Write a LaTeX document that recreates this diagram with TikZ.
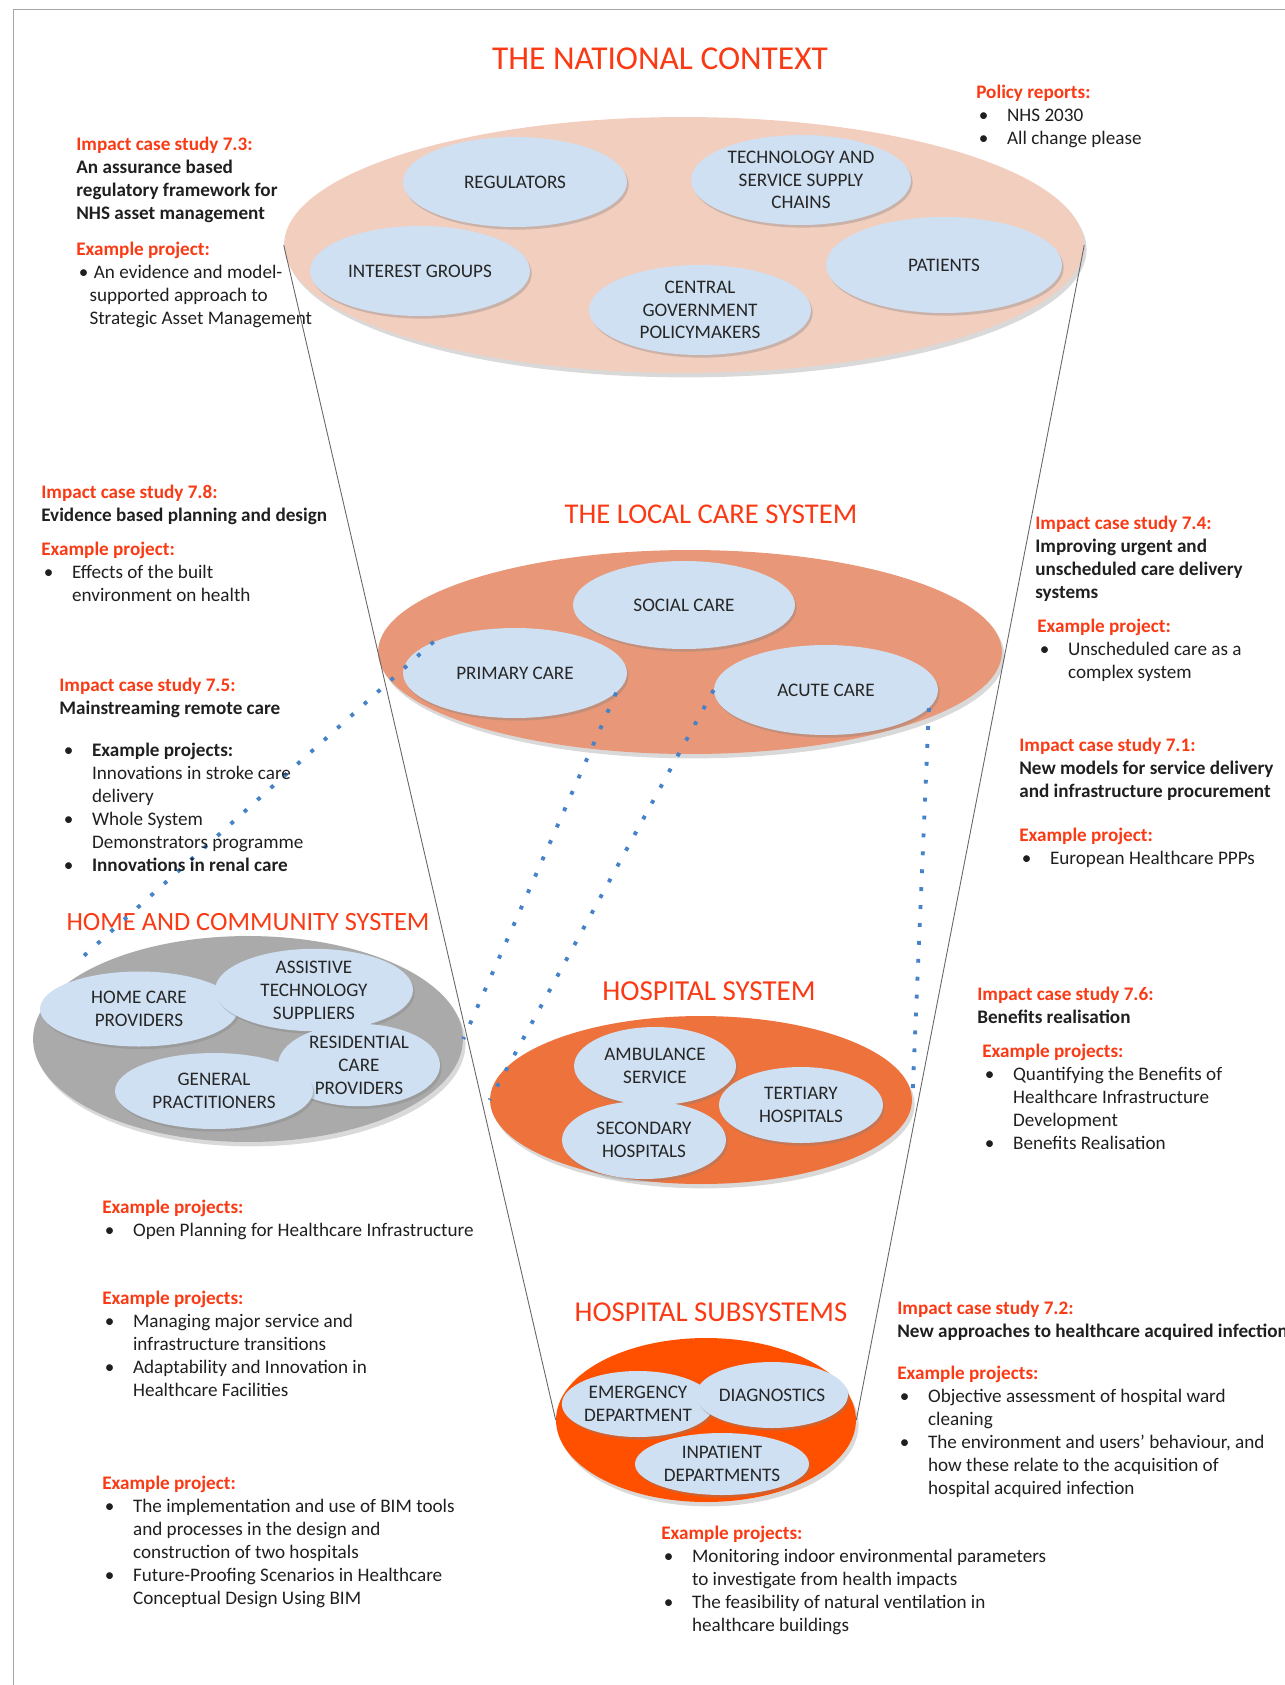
\documentclass[tikz,border=0pt]{standalone}
\usepackage{fontspec}
\setmainfont{Carlito}
\usetikzlibrary{shapes.geometric,shadows}
\definecolor{headred}{RGB}{250,58,20}
\definecolor{natfill}{RGB}{242,206,190}
\definecolor{locfill}{RGB}{232,152,120}
\definecolor{homefill}{RGB}{170,170,170}
\definecolor{hosfill}{RGB}{237,114,60}
\definecolor{subfill}{RGB}{255,80,0}
\definecolor{partfill}{RGB}{207,224,242}
\definecolor{dotblue}{RGB}{70,130,200}
\newcommand\hd[1]{\textcolor{headred}{\textbf{#1}}}
\newcommand\bul[1][16pt]{\hspace*{1.5pt}\makebox[#1][l]{\textbullet}}
\newcommand\hang[1][17.5pt]{\hspace*{#1}}
\begin{document}
\begin{tikzpicture}[x=0.02cm, y=-0.02cm,
    title/.style={text=headred, inner sep=0pt, font=\fontsize{#1}{20}\selectfont},
    zone/.style={ellipse, inner sep=0pt, drop shadow={opacity=0.3, shadow xshift=1.5pt, shadow yshift=-2.5pt}},
    part/.style={ellipse, fill=partfill, inner sep=0pt, align=center, text=black!85,
        font=\fontsize{10.9}{13}\selectfont, minimum width=4.44cm, minimum height=1.8cm,
        drop shadow={opacity=0.35, shadow xshift=1pt, shadow yshift=-1.5pt}},
    note/.style={anchor=north west, inner sep=0pt, align=left, text=black!88,
        font=\fontsize{10.9}{13}\selectfont, execute at begin node=\strut},
    dots/.style={dotblue, line width=2.2pt, dash pattern=on 2.2pt off 8pt},
    funnel/.style={black!60, line width=0.5pt}]
    \useasboundingbox (0,0) rectangle (1285,1685);
    \draw[black!35] (1285,9) -- (13,9) -- (13,1685);

    \node(tnat)[title=19] at (660,59) {THE NATIONAL CONTEXT};
    \node(tloc)[title=16.3] at (711,514) {THE LOCAL CARE SYSTEM};
    \node(thome)[title=15] at (248,922) {HOME AND COMMUNITY SYSTEM};
    \node(thos)[title=16.5] at (709,991) {HOSPITAL SYSTEM};
    \node(tsub)[title=16.4] at (711,1312) {HOSPITAL SUBSYSTEMS};

    \node(nat)[zone, fill=natfill, minimum width=16cm, minimum height=5.12cm] at (684,245) {};
    \node(reg)[part, minimum width=4.48cm] at (515,182) {REGULATORS};
    \node(tech)[part, minimum width=4.4cm] at (801,180) {TECHNOLOGY AND\\SERVICE SUPPLY\\CHAINS};
    \node(intg)[part, minimum width=4.4cm] at (420,271) {INTEREST GROUPS};
    \node(cgov)[part] at (700,310) {CENTRAL\\GOVERNMENT\\POLICYMAKERS};
    \node(pat)[part, minimum width=4.72cm, minimum height=1.92cm] at (944,265) {PATIENTS};

    \node(loc)[zone, fill=locfill, minimum width=12.48cm, minimum height=4.08cm] at (690,652) {};
    \node(soc)[part, minimum height=1.76cm] at (684,605) {SOCIAL CARE};
    \node(prim)[part, minimum width=4.48cm] at (515,673) {PRIMARY CARE};
    \node(acute)[part, minimum width=4.48cm] at (826,690) {ACUTE CARE};

    \node(home)[zone, fill=homefill, minimum width=8.6cm, minimum height=4.12cm] at (248,1039) {};
    \node(hcp)[part, minimum width=3.96cm, minimum height=1.5cm] at (139,1009) {HOME CARE\\PROVIDERS};
    \node(ats)[part, minimum width=3.96cm, minimum height=1.52cm] at (314,990) {ASSISTIVE\\TECHNOLOGY\\SUPPLIERS};
    \node(rcp)[part, minimum width=3.24cm, minimum height=1.48cm] at (359,1065) {RESIDENTIAL\\CARE\\PROVIDERS};
    \node(gp)[part, minimum width=3.96cm, minimum height=1.52cm] at (214,1091) {GENERAL\\PRACTITIONERS};

    \node(hos)[zone, fill=hosfill, minimum width=8.44cm, minimum height=3.36cm] at (701,1100) {};
    \node(amb)[part, minimum width=3.24cm, minimum height=1.56cm] at (655,1066) {AMBULANCE\\SERVICE};
    \node(sec)[part, minimum width=3.28cm, minimum height=1.56cm] at (644,1140) {SECONDARY\\HOSPITALS};
    \node(ter)[part, minimum width=3.28cm, minimum height=1.52cm] at (801,1105) {TERTIARY\\HOSPITALS};

    \node(sub)[zone, fill=subfill, minimum width=6cm, minimum height=3.28cm] at (706,1420) {};
    \node(emer)[part, minimum width=3.04cm, minimum height=1.32cm] at (638,1404) {EMERGENCY\\DEPARTMENT};
    \node(diag)[part, minimum width=3.04cm, minimum height=1.32cm] at (772,1395) {DIAGNOSTICS};
    \node(inp)[part, minimum width=3.48cm, minimum height=1.24cm] at (722,1464) {INPATIENT\\DEPARTMENTS};

    \draw[funnel] (nat.west) -- (sub.west);
    \draw[funnel] (nat.east) -- (sub.east);

    \coordinate(hend) at (77,962);
    \draw[dots] (prim.159) -- (hend);
    \draw[dots] (prim.-11) -- (home.east);
    \draw[dots] (acute.west) -- (hos.west);
    \draw[dots] (acute.-10) -- (hos.east);

    \node(cs73)[note] at (76,137) {\hd{Impact case study 7.3:}\\ \textbf{An assurance based}\\ \textbf{regulatory framework for}\\ \textbf{NHS asset management}};
    \node(ep73)[note] at (76,242) {\hd{Example project:}\\ \bul[8.5pt]An evidence and model-\\ \hang[7.5pt]supported approach to\\ \hang[7.5pt]Strategic Asset Management};
    \node(pol)[note] at (976,85) {\hd{Policy reports:}\\ \bul NHS 2030\\ \bul All change please};
    \node(cs78)[note] at (41,485) {\hd{Impact case study 7.8:}\\ \textbf{Evidence based planning and design}};
    \node(ep78)[note] at (41,542) {\hd{Example project:}\\ \bul Effects of the built\\ \hang environment on health};
    \node(cs75)[note] at (59,678) {\hd{Impact case study 7.5:}\\ \textbf{Mainstreaming remote care}};
    \node(ep75)[note] at (61,743) {\bul\textbf{Example projects:}\\ \hang Innovations in stroke care\\ \hang delivery\\ \bul Whole System\\ \hang Demonstrators programme\\ \bul\textbf{Innovations in renal care}};
    \node(cs74)[note] at (1035,516) {\hd{Impact case study 7.4:}\\ \textbf{Improving urgent and}\\ \textbf{unscheduled care delivery}\\ \textbf{systems}};
    \node(ep74)[note] at (1037,619) {\hd{Example project:}\\ \bul Unscheduled care as a\\ \hang complex system};
    \node(cs71)[note] at (1019,738) {\hd{Impact case study 7.1:}\\ \textbf{New models for service delivery}\\ \textbf{and infrastructure procurement}};
    \node(ep71)[note] at (1019,828) {\hd{Example project:}\\ \bul European Healthcare PPPs};
    \node(cs76)[note] at (977,987) {\hd{Impact case study 7.6:}\\ \textbf{Benefits realisation}};
    \node(ep76)[note] at (982,1044) {\hd{Example projects:}\\ \bul Quantifying the Benefits of\\ \hang Healthcare Infrastructure\\ \hang Development\\ \bul Benefits Realisation};
    \node(epl1)[note] at (102,1200) {\hd{Example projects:}\\ \bul Open Planning for Healthcare Infrastructure};
    \node(epl2)[note] at (102,1291) {\hd{Example projects:}\\ \bul Managing major service and\\ \hang infrastructure transitions\\ \bul Adaptability and Innovation in\\ \hang Healthcare Facilities};
    \node(epl3)[note] at (102,1476) {\hd{Example project:}\\ \bul The implementation and use of BIM tools\\ \hang and processes in the design and\\ \hang construction of two hospitals\\ \bul Future-Proofing Scenarios in Healthcare\\ \hang Conceptual Design Using BIM};
    \node(cs72)[note] at (897,1301) {\hd{Impact case study 7.2:}\\ \textbf{New approaches to healthcare acquired infection}};
    \node(ep72)[note] at (897,1366) {\hd{Example projects:}\\ \bul Objective assessment of hospital ward\\ \hang cleaning\\ \bul The environment and users’ behaviour, and\\ \hang how these relate to the acquisition of\\ \hang hospital acquired infection};
    \node(epb)[note] at (661,1526) {\hd{Example projects:}\\ \bul Monitoring indoor environmental parameters\\ \hang to investigate from health impacts\\ \bul The feasibility of natural ventilation in\\ \hang healthcare buildings};
\end{tikzpicture}
\end{document}
